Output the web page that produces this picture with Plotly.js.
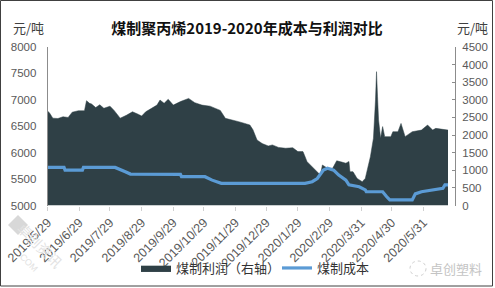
<!DOCTYPE html>
<html>
<head>
<meta charset="utf-8">
<script src="https://cdn.plot.ly/plotly-3.0.1.min.js"></script>
<style>
html,body{margin:0;padding:0;background:#fff;}
#chart{width:495px;height:288px;}
</style>
</head>
<body>
<div id="chart"></div>
<script>
// 煤制利润（右轴） — profit, yuan/ton
var profitDates = ['2019-05-29','2019-05-31','2019-06-03','2019-06-08','2019-06-13','2019-06-18','2019-06-22','2019-06-28',
  '2019-07-04','2019-07-05','2019-07-06','2019-07-09','2019-07-11','2019-07-15','2019-07-19','2019-07-23','2019-07-29',
  '2019-08-02','2019-08-08','2019-08-14','2019-08-20','2019-08-25','2019-08-29','2019-09-02','2019-09-08','2019-09-13',
  '2019-09-16','2019-09-20','2019-09-24','2019-09-29','2019-10-06','2019-10-14','2019-10-20','2019-10-27','2019-11-04',
  '2019-11-09','2019-11-14','2019-11-19','2019-11-26','2019-12-02','2019-12-08','2019-12-13','2019-12-16','2019-12-20',
  '2019-12-25','2019-12-31','2020-01-04','2020-01-10','2020-01-17','2020-01-24','2020-01-29','2020-02-03','2020-02-07',
  '2020-02-12','2020-02-17','2020-02-20','2020-02-22','2020-02-27','2020-03-03','2020-03-07','2020-03-11','2020-03-16',
  '2020-03-19','2020-03-20','2020-03-23','2020-03-27','2020-04-01','2020-04-04','2020-04-09','2020-04-12','2020-04-14',
  '2020-04-15','2020-04-16','2020-04-17','2020-04-19','2020-04-21','2020-04-23','2020-04-29','2020-05-01','2020-05-06',
  '2020-05-09','2020-05-13','2020-05-20','2020-05-29','2020-06-04','2020-06-09','2020-06-12','2020-06-19','2020-06-24'];
var profitValues = [2680,2620,2480,2470,2520,2500,2650,2690,
  2690,2900,2975,2900,2880,2780,2860,2760,2820,
  2700,2480,2560,2660,2600,2540,2660,2760,2850,
  2995,2900,3015,2850,2950,3040,2920,2850,2820,
  2760,2700,2475,2430,2380,2330,2285,2150,1860,
  1760,1690,1720,1650,1625,1640,1530,1530,1245,
  1100,960,865,1150,1055,1055,1270,1240,1200,
  1250,960,960,770,675,770,1385,1910,3000,
  3800,3090,2430,1910,2240,1955,1955,2095,2095,
  2330,1955,2095,2140,2285,2140,2190,2165,2140];

// 煤制成本 — cost, yuan/ton
var costDates = ['2019-05-29','2019-06-14','2019-06-15','2019-07-02','2019-07-03','2019-08-03','2019-08-13','2019-08-18',
  '2019-10-06','2019-10-07','2019-10-30','2019-11-06','2019-11-15','2020-02-05','2020-02-12','2020-02-17','2020-02-23',
  '2020-02-27','2020-03-04','2020-03-09','2020-03-16','2020-03-19','2020-03-29','2020-04-04','2020-04-05','2020-04-21',
  '2020-04-25','2020-04-28','2020-05-20','2020-05-23','2020-05-29','2020-06-12','2020-06-19','2020-06-21','2020-06-24'];
var costValues = [5720,5720,5670,5670,5720,5720,5640,5595,
  5590,5545,5545,5480,5420,5420,5450,5510,5670,
  5705,5670,5575,5480,5390,5355,5295,5260,5260,
  5165,5105,5105,5220,5260,5295,5325,5390,5390];

var tickDates = ['2019-05-29','2019-06-29','2019-07-29','2019-08-29','2019-09-29','2019-10-29','2019-11-29','2019-12-29',
  '2020-01-29','2020-02-29','2020-03-31','2020-04-30','2020-05-31'];
var tickLabels = ['2019/5/29','2019/6/29','2019/7/29','2019/8/29','2019/9/29','2019/10/29','2019/11/29','2019/12/29',
  '2020/1/29','2020/2/29','2020/3/31','2020/4/30','2020/5/31'];

var W = 495, H = 288;
var yTickFont = {family:'Liberation Sans, Arial, sans-serif', size:11.5, color:'#595959'};
var xTickFont = {family:'Liberation Sans, Arial, sans-serif', size:12.5, color:'#595959'};
var cjk = 'Noto Sans CJK SC, sans-serif';
var legendFont = {family:cjk, size:13, color:'#333'};

var traces = [
  {x: profitDates, y: profitValues, type:'scatter', mode:'lines', fill:'tozeroy', name:'煤制利润（右轴）',
   line:{color:'#2F4046', width:0.5}, fillcolor:'#2F4046', yaxis:'y', xaxis:'x', legend:'legend'},
  {x: costDates, y: costValues, type:'scatter', mode:'lines', name:'煤制成本',
   line:{color:'#5B9BD5', width:3.2}, yaxis:'y2', xaxis:'x', legend:'legend2'}
];

var layout = {
  width: W, height: H,
  margin:{l:0,r:0,t:0,b:0, autoexpand:false},
  paper_bgcolor:'#fff', plot_bgcolor:'rgba(0,0,0,0)',
  showlegend:true,
  title:{text:'<b>煤制聚丙烯2019-2020年成本与利润对比</b>', font:{family:cjk, size:15, color:'#111'},
         x:247/W, xanchor:'center', y:1-29/H, yanchor:'middle'},
  xaxis:{type:'date', domain:[47.7/W, 448/W], range:['2019-05-29','2020-06-24'],
         tickvals:tickDates, ticktext:tickLabels, tickangle:-45, tickfont:xTickFont,
         ticks:'outside', ticklen:4, tickcolor:'#d0d0d0', showline:false, showgrid:false, zeroline:false,
         anchor:'y2'},
  yaxis:{range:[0,4500], dtick:500, side:'right', anchor:'free', position:455/W,
         domain:[82.5/H, 241/H], showgrid:false, zeroline:false,
         showline:true, linecolor:'#8c8c8c', linewidth:1, ticks:'inside', ticklen:3, tickcolor:'#8c8c8c',
         ticklabelstandoff:4, tickfont:yTickFont},
  yaxis2:{range:[5000,8000], dtick:500, side:'left', overlaying:'y', anchor:'x',
          showgrid:false, zeroline:false, showline:true, linecolor:'#8c8c8c', linewidth:1,
          ticks:'', ticklabelstandoff:8, tickfont:yTickFont},
  legend:{orientation:'h', x:136/W, xanchor:'left', y:1-268/H, yanchor:'middle',
          font:legendFont, bgcolor:'rgba(0,0,0,0)', itemwidth:30},
  legend2:{orientation:'h', x:277/W, xanchor:'left', y:1-268/H, yanchor:'middle',
          font:legendFont, bgcolor:'rgba(0,0,0,0)', itemwidth:30},
  annotations:[
    {text:'元/吨', xref:'paper', yref:'paper', x:28/W, y:1-27/H, showarrow:false,
     font:{family:cjk, size:13, color:'#404040'}, xanchor:'center', yanchor:'middle'},
    {text:'元/吨', xref:'paper', yref:'paper', x:472/W, y:1-27/H, showarrow:false,
     font:{family:cjk, size:13, color:'#404040'}, xanchor:'center', yanchor:'middle'},
    {text:'卓创塑料', xref:'paper', yref:'paper', x:456/W, y:1-268/H, showarrow:false,
     font:{family:cjk, size:13, color:'#c4c4c4'}, xanchor:'center', yanchor:'middle'},
    {text:'卓创资讯', xref:'paper', yref:'paper', x:40/W, y:1-245/H, showarrow:false, textangle:45,
     font:{family:cjk, size:14, color:'#e2e2e2'}, xanchor:'center', yanchor:'middle'},
    {text:'.COM', xref:'paper', yref:'paper', x:28/W, y:1-262/H, showarrow:false, textangle:45,
     font:{family:'Liberation Sans, Arial', size:9, color:'#e2e2e2'}, xanchor:'center', yanchor:'middle'}
  ],
  shapes:[
    {type:'rect', xref:'paper', yref:'paper', x0:0.5/W, x1:492.5/W, y0:1-286/H, y1:1-0.5/H,
     line:{color:'#404040', width:1}, fillcolor:'rgba(0,0,0,0)', layer:'above'},
    {type:'path', xref:'paper', yref:'paper', layer:'below',
     path:'M '+(8/W)+' '+(1-225/H)+' L '+(18/W)+' '+(1-215/H)+' L '+(28/W)+' '+(1-225/H)+' L '+(18/W)+' '+(1-235/H)+' Z',
     fillcolor:'#d8d8d8', line:{width:0}},
    {type:'circle', xref:'paper', yref:'paper', layer:'below',
     x0:410/W, x1:426/W, y0:1-276/H, y1:1-261/H, fillcolor:'rgba(0,0,0,0)', line:{color:'#cfcfcf', width:1, dash:'dot'}}
  ]
};

Plotly.newPlot('chart', traces, layout, {displayModeBar:false, staticPlot:true});
</script>
</body>
</html>
